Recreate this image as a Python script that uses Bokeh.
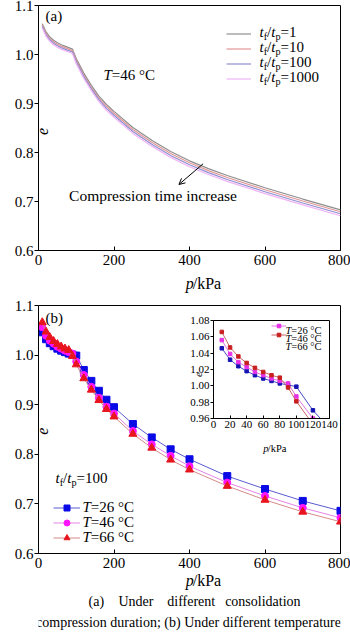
import math
from bokeh.plotting import figure
from bokeh.models import (Range1d, FixedTicker, Label, Legend, LegendItem, Arrow,
                          OpenHead, GridBox, ColumnDataSource, PrintfTickFormatter, Spacer)
from bokeh.embed import file_html
from bokeh.resources import INLINE
from bokeh.core.properties import value

# ---------------- data: panel (a), T = 46 °C ----------------
p_a = [10, 20, 30, 40, 50, 60, 70, 80, 90, 100, 120, 140, 160, 180, 200,
       250, 300, 350, 400, 450, 500, 600, 700, 800]
e_t1 = [1.063, 1.046, 1.036, 1.029, 1.024, 1.020, 1.017, 1.014, 1.011, 0.992,
        0.962, 0.937, 0.915, 0.898, 0.884, 0.851, 0.825, 0.802, 0.783, 0.767,
        0.753, 0.728, 0.705, 0.683]
e_t10 = [1.060, 1.043, 1.033, 1.026, 1.021, 1.017, 1.014, 1.011, 1.008, 0.988,
         0.958, 0.933, 0.911, 0.894, 0.880, 0.847, 0.821, 0.798, 0.779, 0.763,
         0.749, 0.724, 0.701, 0.679]
e_t100 = [1.057, 1.040, 1.030, 1.023, 1.018, 1.014, 1.011, 1.008, 1.005, 0.985,
          0.955, 0.930, 0.908, 0.890, 0.876, 0.843, 0.817, 0.794, 0.775, 0.759,
          0.745, 0.720, 0.697, 0.675]
e_t1000 = [1.054, 1.037, 1.027, 1.020, 1.015, 1.011, 1.008, 1.005, 1.002, 0.981,
           0.951, 0.926, 0.904, 0.886, 0.872, 0.839, 0.813, 0.790, 0.771, 0.755,
           0.741, 0.716, 0.693, 0.671]
ratio_labels = ["1", "10", "100", "1000"]

# ---------------- data: panel (b), tf/tp = 100 ----------------
p_b = [10, 20, 30, 40, 50, 60, 70, 80, 90, 100, 120, 140, 160, 180, 200,
       250, 300, 350, 400, 500, 600, 700, 800]
e_26 = [1.046, 1.032, 1.024, 1.018, 1.013, 1.009, 1.006, 1.003, 1.001, 0.999,
        0.970, 0.948, 0.928, 0.910, 0.895, 0.861, 0.834, 0.810, 0.790, 0.756,
        0.730, 0.706, 0.686]
e_46 = [1.056, 1.039, 1.029, 1.023, 1.017, 1.013, 1.009, 1.006, 1.003, 0.987,
        0.960, 0.936, 0.914, 0.896, 0.882, 0.847, 0.820, 0.797, 0.776, 0.743,
        0.716, 0.692, 0.672]
e_66 = [1.066, 1.047, 1.036, 1.028, 1.022, 1.017, 1.013, 1.010, 0.998, 0.981,
        0.953, 0.930, 0.909, 0.891, 0.876, 0.841, 0.813, 0.789, 0.769, 0.736,
        0.708, 0.684, 0.664]
temp_labels = ["26", "46", "66"]

x_ticks = [0, 200, 400, 600, 800]
y_ticks = [0.6, 0.7, 0.8, 0.9, 1.0, 1.1]
inset_x_ticks = [0, 20, 40, 60, 80, 100, 120, 140]
inset_y_ticks = [0.96, 0.98, 1.00, 1.02, 1.04, 1.06, 1.08]

caption_words = ["(a)", "Under", "different", "consolidation"]
caption_line2 = "compression duration; (b) Under different temperatures"

FONT = "Liberation Serif"

# ---------------- helpers ----------------
EM_R = {' ': .25, '(': .333, ')': .333, '.': .25, '/': .278, '=': .564, '°': .4,
        'C': .667, 'P': .556, 'T': .611, 'a': .444, 'e': .444, 'k': .5,
        'p': .5, 't': .278, 'f': .333}
EM_I = {'T': .556, 't': .278, 'p': .5, 'f': .278, 'e': .444}


def tw(s, ital, size):
    tab = EM_I if ital else EM_R
    return sum(tab.get(c, EM_R.get(c, .5)) for c in s) * size


def rich(fig, x, y, parts, size, dx=0.0, dy=0.0, center=False, color="black"):
    """Mixed italic / subscript text as Label annotations. parts: (text, italic, sub)"""
    sizes = [size * 0.68 if sub else size for _, _, sub in parts]
    if center:
        dx -= sum(tw(t, it, s) for (t, it, _), s in zip(parts, sizes)) / 2
    off = dx
    for (t, it, sub), s in zip(parts, sizes):
        yo = dy - (0.30 * size if sub else 0)
        fig.add_layout(Label(x=x, y=y, x_offset=off, y_offset=yo, text=t,
                             text_font=FONT, text_font_size=f"{s:.1f}px",
                             text_font_style="italic" if it else "normal",
                             text_align="left", text_baseline="middle",
                             text_color=color))
        off += tw(t, it, s)


def style(fig, xt, yt, fs, fmt, tick=4):
    fig.xaxis.ticker = FixedTicker(ticks=xt)
    fig.yaxis.ticker = FixedTicker(ticks=yt)
    fig.yaxis.formatter = PrintfTickFormatter(format=fmt)
    for axes in (fig.xaxis, fig.yaxis):
        axes.major_label_text_font = FONT
        axes.major_label_text_font_size = fs
        axes.major_label_text_color = "black"
        axes.minor_tick_line_color = None
        axes.axis_line_color = "black"
        axes.major_tick_line_color = "black"
    fig.xaxis.major_tick_in = tick
    fig.xaxis.major_tick_out = 0
    fig.xaxis.major_label_standoff = 4
    fig.yaxis.major_tick_in = 0
    fig.yaxis.major_tick_out = tick
    fig.yaxis.major_label_standoff = 1
    fig.xgrid.visible = False
    fig.ygrid.visible = False
    fig.outline_line_color = "black"
    fig.outline_line_alpha = 1.0


# ---------------- panel (a) ----------------
fa = figure(width=350, height=295, x_range=Range1d(0, 800), y_range=Range1d(0.6, 1.1),
            output_backend="svg", toolbar_location=None,
            min_border_left=38, min_border_right=10, min_border_top=5, min_border_bottom=45,
            background_fill_color="white", border_fill_color="white")
style(fa, x_ticks, y_ticks, "15px", "%.1f")


def xa(px):
    return (px - 38) / 302 * 800


def ya(py):
    return 1.1 - (py - 5) / 245 * 0.5


cols_a = ["#8f8f8f", "#e29696", "#8e8ed2", "#f0b2f6"]
series_a = [e_t1, e_t10, e_t100, e_t1000]
rend_a = []
for ys, c in zip(series_a, cols_a):
    rend_a.append(fa.line(p_a, ys, line_color=c, line_width=1.2))

leg_a = Legend(items=[LegendItem(label=" ", renderers=[r]) for r in rend_a],
               location=(188, 164.5), orientation="vertical", padding=0, margin=0,
               spacing=0, glyph_width=25, glyph_height=15, label_height=15,
               label_width=0, label_standoff=0, label_text_font_size="1px",
               border_line_color=None, background_fill_alpha=0)
fa.add_layout(leg_a)
for i, lab in enumerate(ratio_labels):
    rich(fa, xa(259), ya(31 + 15 * i),
         [("t", True, False), ("f", False, True), ("/", False, False),
          ("t", True, False), ("p", False, True), ("=" + lab, False, False)], 15)

rich(fa, 0, ya(15), [("(a)", False, False)], 15, dx=7)
rich(fa, xa(103), ya(74), [("T", True, False), ("=46 °C", False, False)], 15)
fa.add_layout(Arrow(x_start=436, y_start=ya(163.3), x_end=372, y_end=ya(184),
                    end=OpenHead(size=6, line_width=1, line_color="black"),
                    line_width=1, line_color="black"))
fa.add_layout(Label(x=xa(152.5), y=ya(195), text="Compression time increase",
                    text_font=FONT, text_font_size="15.5px", text_align="center",
                    text_baseline="middle", text_color="black"))

# ---------------- panel (b) ----------------
fb = figure(width=350, height=297, x_range=Range1d(0, 800), y_range=Range1d(0.6, 1.1),
            output_backend="svg", toolbar_location=None,
            min_border_left=38, min_border_right=10, min_border_top=10, min_border_bottom=39,
            background_fill_color="white", border_fill_color="white")
style(fb, x_ticks, y_ticks, "15px", "%.1f")


def xb(px):
    return (px - 38) / 302 * 800


def yb(py):
    return 1.1 - (py - 305) / 248 * 0.5


line_cols_b = ["#5a5ad0", "#e484e4", "#d68a8a"]
mark_cols_b = ["#0a0ae6", "#ff14ff", "#e8141e"]
markers_b = ["square", "circle", "triangle"]
msize_b = [7, 7, 8]
series_b = [e_26, e_46, e_66]
items_b = []
for ys, lc, mc, mk, ms in zip(series_b, line_cols_b, mark_cols_b, markers_b, msize_b):
    l = fb.line(p_b, ys, line_color=lc, line_width=1)
    s = fb.scatter(p_b, ys, marker=mk, size=ms, fill_color=mc, line_color=mc)
    items_b.append(LegendItem(label=" ", renderers=[l, s]))
leg_b = Legend(items=items_b, location=(15, 8.5), orientation="vertical", padding=0,
               margin=0, spacing=0, glyph_width=27, glyph_height=15, label_height=15,
               label_width=0, label_standoff=0, label_text_font_size="1px",
               border_line_color=None, background_fill_alpha=0)
fb.add_layout(leg_b)
for i, lab in enumerate(temp_labels):
    rich(fb, xb(82), yb(506 + 15 * i), [("T", True, False), ("=" + lab + " °C", False, False)], 15)
rich(fb, xb(55), yb(477), [("t", True, False), ("f", False, True), ("/", False, False),
                           ("t", True, False), ("p", False, True), ("=100", False, False)], 15)
rich(fb, 0, yb(317), [("(b)", False, False)], 15, dx=7)

# ---------------- inset ----------------
fi = figure(width=164, height=147, x_range=Range1d(0, 140), y_range=Range1d(0.96, 1.08),
            output_backend="svg", toolbar_location=None,
            min_border_left=37, min_border_right=6, min_border_top=5, min_border_bottom=28,
            background_fill_color="white", border_fill_color=None)
style(fi, inset_x_ticks, inset_y_ticks, "11px", "%.2f", tick=3)
fi.xaxis.major_label_standoff = 2
fi.margin = (15, 0, 0, 175)
line_cols_i = ["#4848c8", "#e070e0", "#c86464"]
mark_cols_i = ["#1414b4", "#e632e6", "#c81e1e"]
items_i = []
for ys, lc, mc in zip(series_b, line_cols_i, mark_cols_i):
    l = fi.line(p_b, ys, line_color=lc, line_width=1)
    s = fi.scatter(p_b, ys, marker="square", size=3.5, fill_color=mc, line_color=mc)
    items_i.append(LegendItem(label=" ", renderers=[l, s]))
leg_i = Legend(items=items_i, location=(58, 79.5), orientation="vertical", padding=0,
               margin=0, spacing=0, glyph_width=15, glyph_height=9, label_height=9,
               label_width=0, label_standoff=0, label_text_font_size="1px",
               border_line_color=None, background_fill_alpha=0)
fi.add_layout(leg_i)
for i, lab in enumerate(temp_labels):
    rich(fi, 140 * (287 - 212) / 121, 1.08 - (12 + 9 * i) / 114 * 0.12,
         [("T", True, False), ("=" + lab + " °C", False, False)], 10.5)

# ---------------- caption row (blank; text drawn on overlay) ----------------
fc = Spacer(width=350, height=40)

# ---------------- overlay for axis titles and caption (page pixel coordinates) ----------------
fo = figure(width=350, height=632, x_range=Range1d(0, 350), y_range=Range1d(632, 0),
            output_backend="svg", toolbar_location=None, x_axis_type=None, y_axis_type=None,
            min_border=0, background_fill_color=None, border_fill_color=None)
fo.outline_line_color = None
fo.xgrid.visible = False
fo.ygrid.visible = False


def rich_px(fig, x, y, parts, size, center=True):
    if center:
        x -= sum(tw(t, it, size) for t, it in parts) / 2
    for t, it in parts:
        fig.text(x=[x], y=[y], text=[t], text_font=value(FONT),
                 text_font_size=f"{size}px",
                 text_font_style=value("italic" if it else "normal"),
                 text_align="left", text_baseline="middle", text_color="black")
        x += tw(t, it, size)


for cx, cy, sz in [(189, 280, 16), (189, 580, 16), (272.5, 447, 10.5)]:
    rich_px(fo, cx, cy, [("p", True), ("/kPa", False)], sz)
for cx, cy, sz in [(5, 127, 16), (5, 429, 16), (186, 372, 11)]:
    fo.text(x=[cx], y=[cy], text=["e"], text_font=value(FONT), text_font_size=f"{sz}px",
            text_font_style=value("italic"), angle=math.pi / 2, text_align="center",
            text_baseline="middle", text_color="black")

cap_src = ColumnDataSource(dict(
    x=[67, 113, 177, 260, 177],
    y=[601, 601, 601, 601, 622],
    t=caption_words + [caption_line2]))
fo.text(x="x", y="y", text="t", source=cap_src, text_font=value(FONT),
        text_font_size="14px", text_align="center", text_baseline="middle",
        text_color="black")

layout = GridBox(children=[(fa, 0, 0), (fb, 1, 0), (fc, 2, 0), (fi, 1, 0), (fo, 0, 0, 3, 1)])
open("out.html", "w").write(file_html(layout, INLINE))
